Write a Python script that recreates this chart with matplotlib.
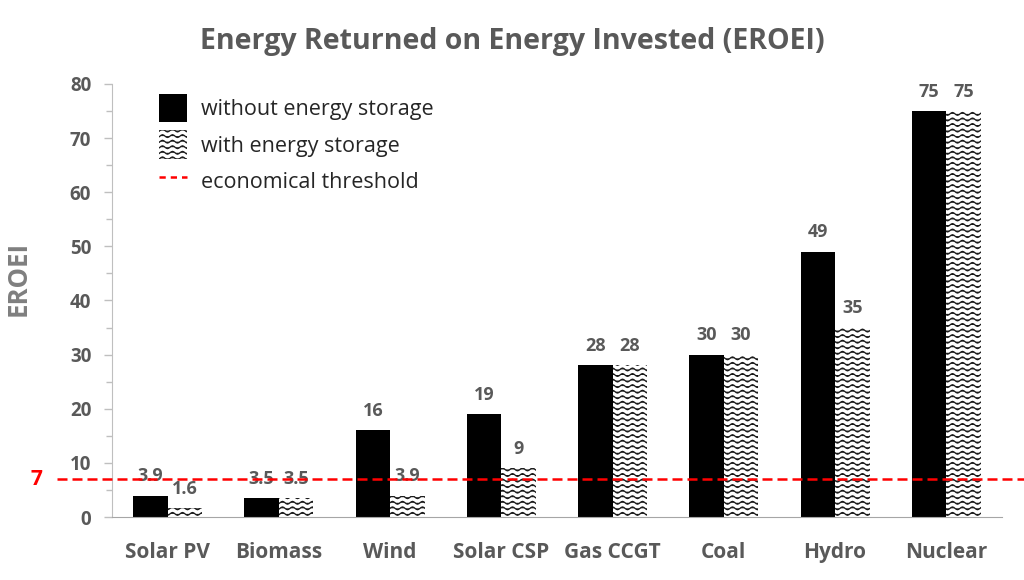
import warnings
import numpy as np
import matplotlib
matplotlib.use("Agg")
import matplotlib.pyplot as plt
import matplotlib.hatch as mhatch
from matplotlib.path import Path
from matplotlib.patches import Patch
from matplotlib.lines import Line2D
from matplotlib.ticker import MultipleLocator

warnings.filterwarnings("ignore")

categories = ["Solar PV", "Biomass", "Wind", "Solar CSP", "Gas CCGT", "Coal", "Hydro", "Nuclear"]
without_storage = [3.9, 3.5, 16, 19, 28, 30, 49, 75]
with_storage = [1.6, 3.5, 3.9, 9, 28, 30, 35, 75]
without_labels = ["3.9", "3.5", "16", "19", "28", "30", "49", "75"]
with_labels = ["1.6", "3.5", "3.9", "9", "28", "30", "35", "75"]
threshold = 7


# wavy hatch ('~'), not available in matplotlib so register one
class WaveHatch(mhatch.HatchPatternBase):
    def __init__(self, hatch, density):
        self.num_rows = int(hatch.count('~') * density)
        self.num_seg = 80
        self.periods = 10
        self.num_vertices = self.num_rows * (self.num_seg + 1) if self.num_rows else 0

    def set_vertices_and_codes(self, vertices, codes):
        n = self.num_seg
        xs = np.linspace(0, 1, n + 1)
        amp = 0.25 / self.num_rows
        for i in range(self.num_rows):
            y0 = (i + 0.5) / self.num_rows
            s = i * (n + 1)
            vertices[s:s + n + 1, 0] = xs
            vertices[s:s + n + 1, 1] = y0 + amp * np.sin(2 * np.pi * self.periods * xs)
            codes[s:s + n + 1] = Path.LINETO
            codes[s] = Path.MOVETO


mhatch._hatch_types.append(WaveHatch)

plt.rcParams['font.family'] = ['Open Sans', 'DejaVu Sans']
plt.rcParams['hatch.linewidth'] = 0.9

gray = '#595959'
axis_gray = '#bfbfbf'

fig = plt.figure(figsize=(10.24, 5.8), dpi=100)
ax = fig.add_axes([0.1094, 0.1086, 0.8691, 0.7466])

x = np.arange(len(categories))
w = 0.31
ax.bar(x - w / 2, without_storage, w, color='black', linewidth=0)
ax.bar(x + w / 2, with_storage, w, color='white', edgecolor='#1a1a1a', hatch='~~~', linewidth=0)

for i in range(len(categories)):
    ax.annotate(without_labels[i], (x[i] - w / 2, without_storage[i]), xytext=(0, 14),
                textcoords='offset points', ha='center', va='center',
                fontsize=13, fontweight='bold', color=gray)
    ax.annotate(with_labels[i], (x[i] + w / 2, with_storage[i]), xytext=(0, 14),
                textcoords='offset points', ha='center', va='center',
                fontsize=13, fontweight='bold', color=gray)

ax.axhline(threshold, xmin=-0.062, xmax=1.03, color='#ff0000', lw=1.8,
           dashes=(4, 2), clip_on=False, zorder=5)
ax.text(-0.085, threshold, str(threshold), transform=ax.get_yaxis_transform(),
        ha='center', va='center', color='#ff0000', fontsize=15, fontweight='bold')

ax.set_xlim(-0.5, 7.5)
ax.set_ylim(0, 80)
ax.yaxis.set_major_locator(MultipleLocator(10))
ax.yaxis.set_minor_locator(MultipleLocator(5))
ax.set_xticks(x)
ax.set_xticklabels(categories, fontsize=15, fontweight='bold', color=gray)
ax.tick_params(axis='x', length=0, pad=18)
ax.tick_params(axis='y', which='major', length=6, width=1, color=axis_gray, pad=9,
               labelsize=13.5, labelcolor=gray)
ax.tick_params(axis='y', which='minor', length=4.5, width=1, color=axis_gray)
for lab in ax.get_yticklabels():
    lab.set_fontweight('bold')

for s in ['top', 'right']:
    ax.spines[s].set_visible(False)
ax.spines['left'].set_color(axis_gray)
ax.spines['bottom'].set_color('#a6a6a6')

ax.set_ylabel('EROEI', fontsize=18.5, fontweight='bold', color='#7f7f7f')
ax.yaxis.set_label_coords(-0.09, 0.55)

fig.suptitle('Energy Returned on Energy Invested (EROEI)', x=0.5, y=0.953,
             fontsize=20.5, fontweight='bold', color=gray)

handles = [
    Patch(facecolor='black', linewidth=0),
    Patch(facecolor='white', edgecolor='#1a1a1a', hatch='~~~', linewidth=0),
    Line2D([0], [0], color='#ff0000', lw=1.8, dashes=(2.5, 2)),
]
fig.legend(handles, ['without energy storage', 'with energy storage', 'economical threshold'],
           loc='upper left', bbox_to_anchor=(0.155, 0.838), frameon=False, fontsize=15.5,
           handlelength=1.3, handleheight=1.63, handletextpad=0.68, labelspacing=0.39,
           borderpad=0, borderaxespad=0, labelcolor='#262626')

fig.savefig('out.png', dpi=100)
